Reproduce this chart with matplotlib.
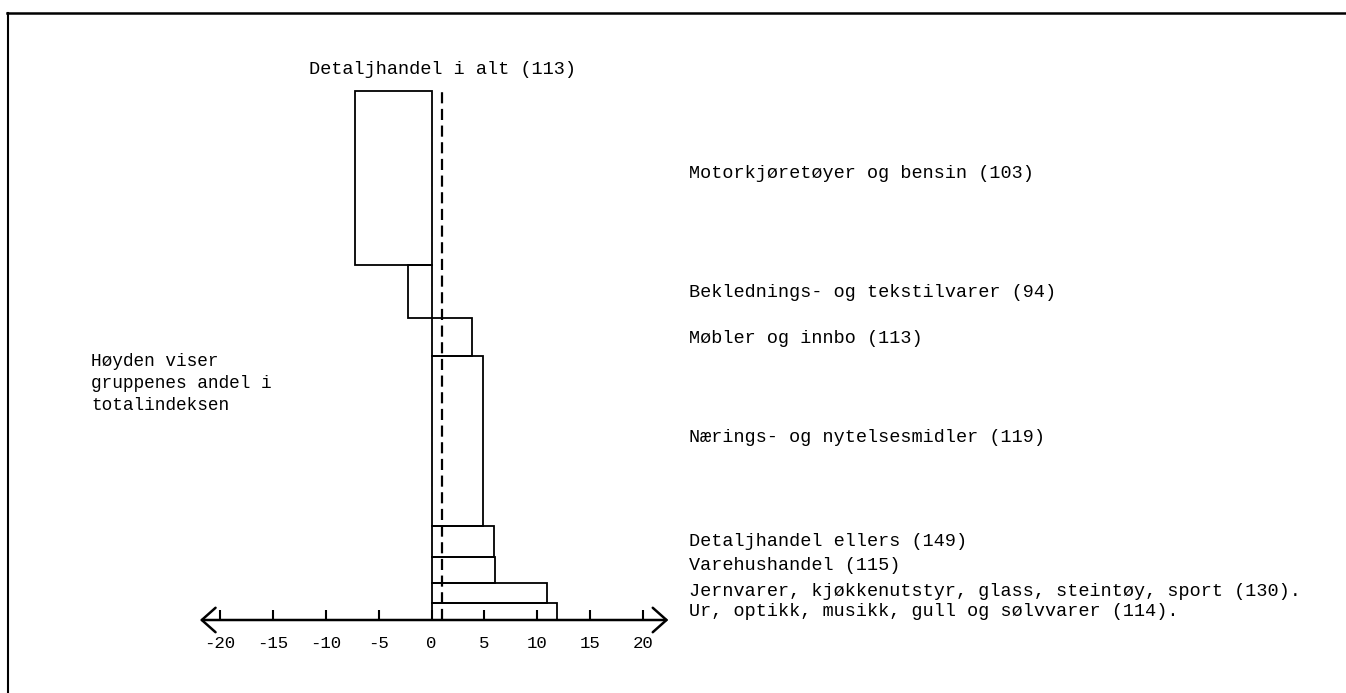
import matplotlib
matplotlib.use("Agg")
import matplotlib.pyplot as plt
from matplotlib.lines import Line2D

# --------------------------------------------------------------
# data, bottom bar first
# --------------------------------------------------------------
labels = [
    "Ur, optikk, musikk, gull og sølvvarer (114).",
    "Jernvarer, kjøkkenutstyr, glass, steintøy, sport (130).",
    "Varehushandel (115)",
    "Detaljhandel ellers (149)",
    "Nærings- og nytelsesmidler (119)",
    "Møbler og innbo (113)",
    "Beklednings- og tekstilvarer (94)",
    "Motorkjøretøyer og bensin (103)",
]
changes = [11.9, 10.9, 6.0, 5.9, 4.9, 3.8, -2.2, -7.2]
weights = [3.2, 3.8, 4.9, 5.9, 32.1, 7.2, 10.0, 32.9]
total_change = 1.0
total_label = "Detaljhandel i alt (113)"
tick_values = [-20, -15, -10, -5, 0, 5, 10, 15, 20]
note_lines = ["Høyden viser", "gruppenes andel i", "totalindeksen"]

# label heights on the page (pixels from top)
label_y_px = [612, 591, 566, 542, 437, 338, 293, 174]

W, H = 1346, 693
fig = plt.figure(figsize=(W / 100, H / 100), dpi=100)
fig.patch.set_facecolor("white")

# axes placed so that 0 -> x=431.5px, 10.575 px per unit ; y 0 -> 620px, 5.29 px per unit
x0px, xs = 431.5, 10.575
y0px, ys = 620.0, 5.29
L, R, T, B = 190, 690, 60, 660
ax = fig.add_axes([L / W, 1 - B / H, (R - L) / W, (B - T) / H])
ax.set_xlim((L - x0px) / xs, (R - x0px) / xs)
ax.set_ylim((y0px - B) / ys, (y0px - T) / ys)
ax.axis("off")

mono = "Liberation Mono"

# bars: width = change, height = weight
bottom = 0.0
for lab, ch, w, ypx in zip(labels, changes, weights, label_y_px):
    ax.barh(bottom + w / 2, ch, height=w, left=0, fill=False,
            edgecolor="black", linewidth=1.3)
    bottom += w
    fig.text(689 / W, 1 - ypx / H, lab, fontsize=13.35, family=mono,
             ha="left", va="center", color="black")

# dashed total line
ax.plot([total_change, total_change], [0, bottom], color="black",
        linewidth=1.6, dashes=(5, 2.5))
ax.text(total_change, bottom + 4.0, total_label, fontsize=13.4, family=mono,
        ha="center", va="center")

# horizontal axis with open arrows
ax.annotate("", xy=(-21.9, 0), xytext=(22.4, 0),
            arrowprops=dict(arrowstyle="<->,head_length=0.45,head_width=0.4",
                            lw=1.8, color="black", mutation_scale=22,
                            shrinkA=0, shrinkB=0))
ax.vlines(tick_values, 0, 1.9, color="black", linewidth=1.5)
for t in tick_values:
    ax.text(t, -4.35, str(t), fontsize=12.5, family=mono,
            ha="center", va="center")

# note on the left
for i, line in enumerate(note_lines):
    fig.text(91 / W, 1 - (362 + 22 * i) / H, line, fontsize=12.8,
             family=mono, ha="left", va="center")

# page frame
fig.add_artist(Line2D([7 / W, 1.0], [1 - 13 / H, 1 - 13 / H],
                      transform=fig.transFigure, color="black", linewidth=1.8))
fig.add_artist(Line2D([8 / W, 8 / W], [1 - 13 / H, 0.0],
                      transform=fig.transFigure, color="black", linewidth=1.5))

fig.savefig("out.png", dpi=100, facecolor="white")
